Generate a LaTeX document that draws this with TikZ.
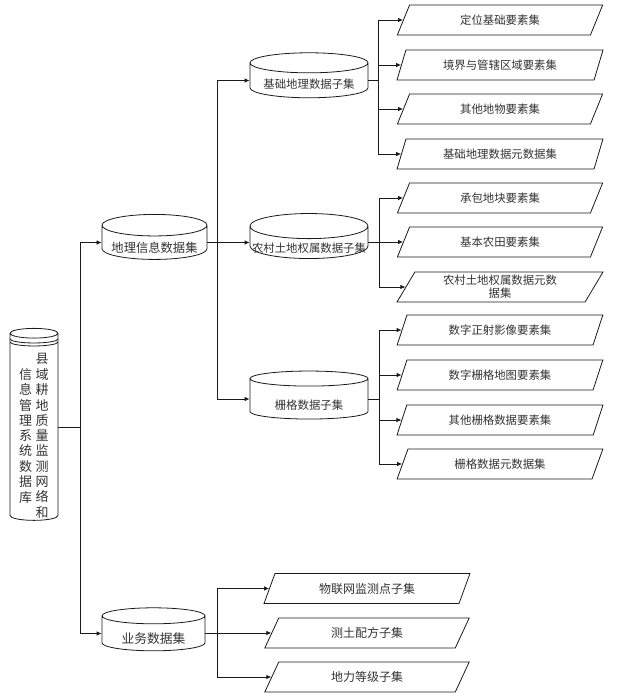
\documentclass[tikz,border=0pt]{standalone}
\usepackage{fontspec}
\newfontfamily\cjk{Noto Sans CJK SC}
\usepackage{tikz}
\usetikzlibrary{arrows.meta,shapes.geometric}
\definecolor{ink}{HTML}{1A1A1A}
\definecolor{txt}{HTML}{333333}
% text of a store sits a little below the middle of its body
\newcommand{\lowtext}[2][10pt]{\raisebox{-#1}[0pt][0pt]{#2}}

\begin{document}
\begin{tikzpicture}[x=1pt,y=-1pt,
    db/.style={cylinder, shape border rotate=90, draw=ink, line width=0.8pt,
      aspect=0.25, inner sep=0pt, text=txt,
      font=\cjk\fontsize{11.4}{13}\selectfont},
    dset/.style={trapezium, trapezium left angle=63, trapezium right angle=117,
      trapezium stretches=true, draw=ink, line width=0.8pt, inner sep=0pt,
      minimum width=206pt, minimum height=30pt, align=center, text=txt,
      font=\cjk\fontsize{11.4}{13}\selectfont},
    link/.style={draw=ink, line width=0.8pt, -{Latex[length=5pt,width=4.5pt]}}]
  \useasboundingbox (0,0) rectangle (621,693);

  % root store, text set in two vertical columns
  \node[db, minimum width=48pt, minimum height=192pt, aspect=0.33,
        font=\cjk\fontsize{13}{15}\selectfont] (root) at (34,427)
       {\lowtext[13.5pt]{\begin{tabular}{@{}c@{}}信\\息\\管\\理\\系\\统\\数\\据\\库\end{tabular}\hspace{3.5pt}%
        \begin{tabular}{@{}c@{}}县\\域\\耕\\地\\质\\量\\监\\测\\网\\络\\和\end{tabular}}};
  \foreach \d in {11,14}
    \draw[ink, line width=0.8pt] ([shift={(-24,\d)}]root.north)
         arc[start angle=180, end angle=360, x radius=24pt, y radius=4pt];

  % first level
  \node[db, minimum width=105pt, minimum height=45pt,
        font=\cjk\fontsize{12.3}{14}\selectfont] (geo) at (154.5,242.5) {\lowtext{地理信息数据集}};
  \node[db, minimum width=103pt, minimum height=43pt,
        font=\cjk\fontsize{12.8}{14}\selectfont] (biz) at (153.5,633.5) {\lowtext{业务数据集}};

  % second level
  \node[db, minimum width=118pt, minimum height=45pt, aspect=0.22] (base) at (309,80.5) {\lowtext[8pt]{基础地理数据子集}};
  \node[db, minimum width=118pt, minimum height=45pt, aspect=0.22] (rural) at (309,242.5) {\lowtext{农村土地权属数据子集}};
  \node[db, minimum width=118pt, minimum height=48pt, aspect=0.22] (raster) at (309,399) {\lowtext{栅格数据子集}};

  % element sets
  \node[dset] (b1) at (500,20) {定位基础要素集};
  \node[dset] (b2) at (500,65) {境界与管辖区域要素集};
  \node[dset] (b3) at (500,109) {其他地物要素集};
  \node[dset] (b4) at (500,154) {基础地理数据元数据集};
  \node[dset] (r1) at (500,198) {承包地块要素集};
  \node[dset] (r2) at (500,242) {基本农田要素集};
  \node[dset] (r3) at (500,287) {农村土地权属数据元数\\据集};
  \node[dset] (g1) at (500,330) {数字正射影像要素集};
  \node[dset] (g2) at (500,375) {数字栅格地图要素集};
  \node[dset] (g3) at (500,420) {其他栅格数据要素集};
  \node[dset] (g4) at (500,464) {栅格数据元数据集};
  \node[dset, font=\cjk\fontsize{12}{14}\selectfont] (s1) at (367,588.5) {物联网监测点子集};
  \node[dset, font=\cjk\fontsize{12}{14}\selectfont] (s2) at (367,633) {测土配方子集};
  \node[dset, font=\cjk\fontsize{12}{14}\selectfont] (s3) at (367,677) {地力等级子集};

  % connectors
  \foreach \t in {geo,biz}
    \draw[link] (root.east) -- ++(22,0) |- (\t.west);
  \foreach \t in {base,rural,raster}
    \draw[link] (geo.east) -- ++(10,0) |- (\t.west);
  \foreach \t in {b1,b2,b3,b4}
    \draw[link] (base.east) -- ++(10,0) |- (\t.west);
  \foreach \t in {r1,r2,r3}
    \draw[link] (rural.east) -- ++(11,0) |- (\t.west);
  \foreach \t in {g1,g2,g3,g4}
    \draw[link] (raster.east) -- ++(11,0) |- (\t.west);
  \foreach \t in {s1,s2,s3}
    \draw[link] (biz.east) -- ++(12,0) |- (\t.west);
\end{tikzpicture}
\end{document}
